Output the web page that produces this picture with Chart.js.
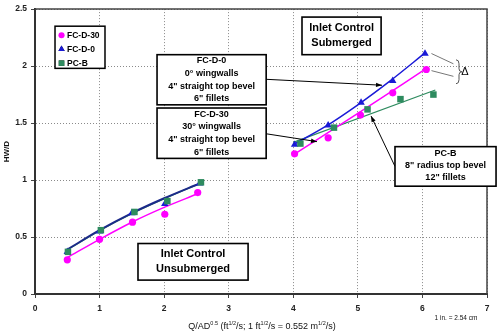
<!DOCTYPE html>
<html><head><meta charset="utf-8">
<script src="https://cdn.jsdelivr.net/npm/chart.js@4.4.1/dist/chart.umd.min.js"></script>
<style>html,body{margin:0;padding:0;background:#fff}canvas{display:block}</style>
</head><body>
<canvas id="c" width="498" height="331"></canvas>
<script>
// ---- data ----
const xTicks = [0, 1, 2, 3, 4, 5, 6, 7];
const yTicks = [0, 0.5, 1, 1.5, 2, 2.5];
const seriesNames = ['FC-D-30', 'FC-D-0', 'PC-B'];

const fcd30X = [0.5, 1.0, 1.51, 2.01, 2.52, 4.02, 4.54, 5.04, 5.54, 6.06];
const fcd30Y = [0.30, 0.48, 0.63, 0.70, 0.89, 1.23, 1.37, 1.57, 1.765, 1.97];
const fcd0X  = [0.5, 1.0, 1.5, 2.01, 2.55, 4.02, 4.54, 5.05, 5.54, 6.04];
const fcd0Y  = [0.37, 0.55, 0.71, 0.79, 0.97, 1.31, 1.48, 1.68, 1.87, 2.11];
const pcbX   = [0.51, 1.02, 1.54, 2.05, 2.57, 4.11, 4.63, 5.15, 5.66, 6.17];
const pcbY   = [0.37, 0.56, 0.72, 0.815, 0.98, 1.32, 1.46, 1.62, 1.71, 1.75];

// fitted curves drawn through the points
const fit30UnX = [0.5, 1.0, 1.5, 2.0, 2.5];
const fit30UnY = [0.32, 0.48, 0.63, 0.76, 0.875];
const fit0UnX  = [0.5, 1.0, 1.5, 2.0, 2.55];
const fit0UnY  = [0.39, 0.56, 0.71, 0.84, 0.97];
const fitBUnX  = [0.5, 1.0, 1.5, 2.0, 2.57];
const fitBUnY  = [0.385, 0.555, 0.705, 0.835, 0.975];
const fit30SuX = [4.0, 5.0, 6.05];
const fit30SuY = [1.22, 1.585, 1.975];
const fit0SuX  = [4.0, 4.5, 5.0, 5.5, 6.05];
const fit0SuY  = [1.31, 1.47, 1.66, 1.87, 2.12];
const fitBSuX  = [4.0, 6.2];
const fitBSuY  = [1.33, 1.79];

const colMag = '#ff00ff', colBlue = '#1a1ad6', colGreen = '#2e8b5f';
const FONT = "'Liberation Sans', Arial, sans-serif";

const pts = (xs, ys) => xs.map((v, i) => ({x: v, y: ys[i]}));
const lineDs = (xs, ys, color, w, order) => ({
  data: pts(xs, ys), showLine: true, pointRadius: 0, borderColor: color,
  borderWidth: w, fill: false, cubicInterpolationMode: 'monotone', order: order, isFit: true
});

const datasets = [
  {label: seriesNames[2], data: pts(pcbX, pcbY), pointStyle: 'rect', pointRadius: 4.6,
   backgroundColor: colGreen, borderColor: colGreen, borderWidth: 0, showLine: false, order: 1},
  {label: seriesNames[0], data: pts(fcd30X, fcd30Y), pointStyle: 'circle', pointRadius: 3.6,
   backgroundColor: colMag, borderColor: colMag, borderWidth: 0, showLine: false, order: 2},
  {label: seriesNames[1], data: pts(fcd0X, fcd0Y), pointStyle: 'triangle', pointRadius: 4.3,
   backgroundColor: colBlue, borderColor: colBlue, borderWidth: 0, showLine: false, order: 3},
  lineDs(fit30UnX, fit30UnY, colMag, 1.5, 10),
  lineDs(fitBUnX, fitBUnY, colGreen, 1.2, 12),
  lineDs(fit0UnX, fit0UnY, '#1c2a8a', 2, 11),
  lineDs(fit30SuX, fit30SuY, colMag, 1.5, 10),
  lineDs(fit0SuX, fit0SuY, colBlue, 1.5, 11),
  lineDs(fitBSuX, fitBSuY, colGreen, 1.2, 12)
];

// ---- annotations (positions in data units) ----
const boxes = [
  {x0: 4.135, x1: 5.36, y0: 2.43, y1: 2.10, lines: ['Inlet Control', 'Submerged'], font: 'bold 11px ', lh: 15, dy: 0},
  {x0: 1.89, x1: 3.58, y0: 2.10, y1: 1.66, lines: ['FC-D-0', '0\u00b0 wingwalls', '4" straight top bevel', '6" fillets'], font: 'bold 9px ', lh: 12.6, dy: 0},
  {x0: 1.89, x1: 3.58, y0: 1.632, y1: 1.19, lines: ['FC-D-30', '30\u00b0 wingwalls', '4" straight top bevel', '6" fillets'], font: 'bold 9px ', lh: 12.6, dy: 0},
  {x0: 5.575, x1: 7.14, y0: 1.293, y1: 0.946, lines: ['PC-B', '8" radius top bevel', '12" fillets'], font: 'bold 9px ', lh: 12, dy: -0.5},
  {x0: 1.595, x1: 3.30, y0: 0.443, y1: 0.122, lines: ['Inlet Control', 'Unsubmerged'], font: 'bold 11px ', lh: 15, dy: 0}
];
const arrows = [
  {x0: 3.58, y0: 1.884, x1: 5.374, y1: 1.832},
  {x0: 3.58, y0: 1.406, x1: 4.367, y1: 1.337},
  {x0: 5.575, y0: 1.12, x1: 5.204, y1: 1.5625}
];

const annotPlugin = {
  id: 'annot',
  afterDraw(chart) {
    const {ctx, chartArea: a, scales: {x, y}} = chart;
    ctx.save();
    // plot frame (top & right)
    ctx.strokeStyle = '#444'; ctx.lineWidth = 1.5;
    ctx.beginPath();
    ctx.moveTo(a.left, a.top); ctx.lineTo(a.right, a.top); ctx.lineTo(a.right, a.bottom);
    ctx.stroke();

    // arrows
    ctx.strokeStyle = '#000'; ctx.fillStyle = '#000'; ctx.lineWidth = 1;
    arrows.forEach(ar => {
      const px0 = x.getPixelForValue(ar.x0), py0 = y.getPixelForValue(ar.y0);
      const px1 = x.getPixelForValue(ar.x1), py1 = y.getPixelForValue(ar.y1);
      ctx.beginPath(); ctx.moveTo(px0, py0); ctx.lineTo(px1, py1); ctx.stroke();
      const ang = Math.atan2(py1 - py0, px1 - px0), L = 6, W = 2.2;
      ctx.beginPath();
      ctx.moveTo(px1, py1);
      ctx.lineTo(px1 - L * Math.cos(ang) + W * Math.sin(ang), py1 - L * Math.sin(ang) - W * Math.cos(ang));
      ctx.lineTo(px1 - L * Math.cos(ang) - W * Math.sin(ang), py1 - L * Math.sin(ang) + W * Math.cos(ang));
      ctx.closePath(); ctx.fill();
    });

    // boxes
    boxes.forEach(b => {
      const l = x.getPixelForValue(b.x0), r = x.getPixelForValue(b.x1);
      const t = y.getPixelForValue(b.y0), btm = y.getPixelForValue(b.y1);
      ctx.fillStyle = '#fff';
      ctx.fillRect(l, t, r - l, btm - t);
      ctx.strokeStyle = '#000'; ctx.lineWidth = 1.6;
      ctx.strokeRect(l, t, r - l, btm - t);
      ctx.fillStyle = '#000';
      ctx.font = b.font + FONT;
      ctx.textAlign = 'center'; ctx.textBaseline = 'middle';
      const cx = (l + r) / 2, cy = (t + btm) / 2 + b.dy;
      const start = cy - (b.lines.length - 1) * b.lh / 2;
      b.lines.forEach((s, i) => ctx.fillText(s, cx, start + i * b.lh));
    });

    // delta marker
    ctx.strokeStyle = '#777'; ctx.lineWidth = 1;
    const dx0 = x.getPixelForValue(6.14), dx1 = x.getPixelForValue(6.48);
    ctx.beginPath();
    ctx.moveTo(dx0, y.getPixelForValue(2.11)); ctx.lineTo(dx1, y.getPixelForValue(2.02));
    ctx.moveTo(dx0, y.getPixelForValue(1.96)); ctx.lineTo(dx1, y.getPixelForValue(1.91));
    ctx.stroke();
    // brace
    const bx = x.getPixelForValue(6.52), bt = y.getPixelForValue(2.055), bb = y.getPixelForValue(1.845);
    const bm = (bt + bb) / 2;
    ctx.strokeStyle = '#555';
    ctx.beginPath();
    ctx.moveTo(bx, bt);
    ctx.quadraticCurveTo(bx + 3, bt, bx + 3, bt + 4);
    ctx.lineTo(bx + 3, bm - 3);
    ctx.quadraticCurveTo(bx + 3, bm, bx + 6, bm);
    ctx.quadraticCurveTo(bx + 3, bm, bx + 3, bm + 3);
    ctx.lineTo(bx + 3, bb - 4);
    ctx.quadraticCurveTo(bx + 3, bb, bx, bb);
    ctx.stroke();
    ctx.fillStyle = '#000';
    ctx.font = '11px ' + FONT; ctx.textAlign = 'left'; ctx.textBaseline = 'middle';
    ctx.fillText('\u0394', x.getPixelForValue(6.6), bm);

    // legend
    const lx0 = x.getPixelForValue(0.31), lx1 = x.getPixelForValue(1.084);
    const ly0 = y.getPixelForValue(2.35), ly1 = y.getPixelForValue(1.98);
    ctx.fillStyle = '#fff'; ctx.fillRect(lx0, ly0, lx1 - lx0, ly1 - ly0);
    ctx.strokeStyle = '#000'; ctx.lineWidth = 1.5; ctx.strokeRect(lx0, ly0, lx1 - lx0, ly1 - ly0);
    const legendOrder = [1, 2, 0];
    ctx.font = 'bold 8.5px ' + FONT; ctx.textAlign = 'left'; ctx.textBaseline = 'middle';
    legendOrder.forEach((di, i) => {
      const ds = chart.data.datasets[di];
      const cy = ly0 + 9 + i * 14, cx = lx0 + 6.5;
      Chart.helpers.drawPoint(ctx, {pointStyle: ds.pointStyle, radius: ds.pointRadius * 0.85, rotation: 0, borderWidth: 0}, cx, cy);
      ctx.fillStyle = ds.backgroundColor; ctx.fill();
      ctx.fillStyle = '#000';
      ctx.fillText(ds.label, cx + 5.5, cy + 0.5);
    });

    // x axis title with superscripts
    const parts = [['Q/AD', 0], ['0.5', 1], [' (ft', 0], ['1/2', 1], ['/s; 1 ft', 0], ['1/2', 1], ['/s = 0.552 m', 0], ['1/2', 1], ['/s)', 0]];
    const fN = '9px ' + FONT, fS = '5.5px ' + FONT;
    let tw = 0;
    parts.forEach(p => { ctx.font = p[1] ? fS : fN; tw += ctx.measureText(p[0]).width; });
    let tx = 262 - tw / 2;
    const ty = 329;
    ctx.fillStyle = '#111'; ctx.textBaseline = 'alphabetic'; ctx.textAlign = 'left';
    parts.forEach(p => {
      ctx.font = p[1] ? fS : fN;
      ctx.fillText(p[0], tx, p[1] ? ty - 4 : ty);
      tx += ctx.measureText(p[0]).width;
    });

    // footnote
    ctx.font = '6.5px ' + FONT; ctx.textAlign = 'center'; ctx.textBaseline = 'middle';
    ctx.fillText('1 in. = 2.54 cm', 456, 318);
    ctx.restore();
  }
};

const fmt = v => String(v);

new Chart(document.getElementById('c'), {
  type: 'scatter',
  data: {datasets},
  options: {
    responsive: false, animation: false, devicePixelRatio: 1,
    layout: {padding: {left: 0, top: 6, right: 11, bottom: 0}},
    plugins: {legend: {display: false}, tooltip: {enabled: false}},
    scales: {
      x: {
        type: 'linear', min: xTicks[0], max: xTicks[xTicks.length - 1],
        afterBuildTicks: s => { s.ticks = xTicks.map(v => ({value: v})); },
        afterFit: s => { s.height = 37; },
        ticks: {font: {family: FONT, size: 8.5, weight: 'bold'}, color: '#222', padding: 6, maxRotation: 0, callback: fmt},
        grid: {color: '#8a8a8a', lineWidth: 1, tickLength: 4, tickColor: '#444'},
        border: {color: '#333', width: 2, dash: [1, 2]}
      },
      y: {
        type: 'linear', min: yTicks[0], max: yTicks[yTicks.length - 1],
        afterBuildTicks: s => { s.ticks = yTicks.map(v => ({value: v})); },
        afterFit: s => { s.width = 35; },
        ticks: {font: {family: FONT, size: 8.5, weight: 'bold'}, color: '#222', padding: 4, callback: fmt},
        grid: {color: '#8a8a8a', lineWidth: 1, tickLength: 4, tickColor: '#444'},
        border: {color: '#333', width: 2, dash: [1, 2]},
        title: {display: true, text: 'HW/D', font: {family: FONT, size: 8, weight: 'bold'}, color: '#111', padding: {top: 2, bottom: 0}}
      }
    }
  },
  plugins: [annotPlugin]
});
</script>
</body></html>
